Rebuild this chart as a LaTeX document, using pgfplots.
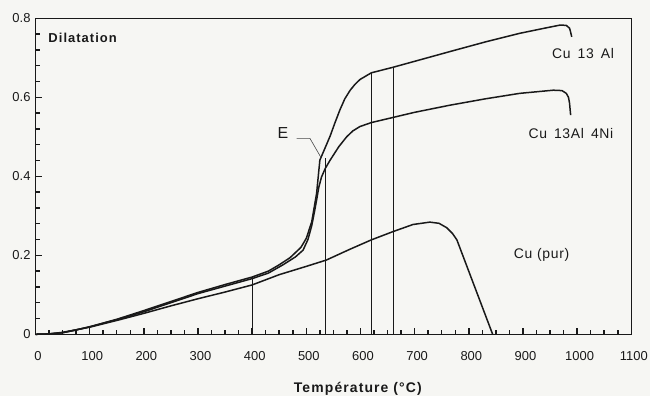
\documentclass[border=0pt]{standalone}
\usepackage{fontspec}
\setmainfont{Liberation Sans}
\newfontfamily\spacedbold[LetterSpace=8]{Liberation Sans}
\newfontfamily\spaced[LetterSpace=5]{Liberation Sans}
\usepackage{pgfplots}
\pgfplotsset{compat=1.18}
\definecolor{paper}{RGB}{246,246,243}
\definecolor{ink}{RGB}{25,25,25}

\begin{document}
\begin{tikzpicture}
\fill[paper] (-35.5bp,-61.7bp) rectangle (614.5bp,334.3bp);
\begin{axis}[
  at={(0,0)}, anchor=south west,
  scale only axis, width=595.8bp, height=316bp,
  xmin=0, xmax=1100, ymin=0, ymax=0.8,
  enlargelimits=false, clip=false,
  xtick={0,100,...,1100}, ytick={0,0.2,0.4,0.6,0.8},
  minor x tick num=3, minor y tick num=4,
  tick align=inside, tick pos=left,
  major tick length=6.5bp, minor tick length=4.5bp,
  every tick/.style={ink, line width=1.5bp},
  axis line style={ink, line width=1.1bp},
  /pgf/number format/assume math mode=true,
  /pgf/number format/1000 sep={},
  ticklabel style={font=\fontsize{13}{15}\selectfont, text=ink},
  yticklabel style={/pgf/number format/fixed, /pgf/number format/precision=1, anchor=east, xshift=-1.5bp},
  xticklabel style={anchor=center, yshift=-21.7bp, xshift=2.5bp},
  xlabel={\spacedbold\bfseries Température (°C)},
  xlabel style={at={(axis description cs:0.541,0)}, anchor=center, yshift=-54.7bp, font=\fontsize{14}{16}\selectfont, text=ink},
]
% Cu 13 Al
\addplot[ink, line width=1.5bp, line join=round] coordinates {
  (0,0) (25,0.001) (50,0.004) (75,0.011) (100,0.019) (150,0.038)
  (200,0.060) (250,0.083) (300,0.106) (350,0.126) (400,0.145)
  (430,0.160) (450,0.176) (470,0.194) (490,0.220) (500,0.243)
  (510,0.285) (519,0.357) (525,0.441) (535,0.473) (544,0.502)
  (553,0.536) (562,0.568) (571,0.596) (581,0.618) (590,0.633)
  (599,0.645) (620,0.662) (660,0.676) (697,0.690) (771,0.718)
  (830,0.740) (894,0.762) (940,0.775) (969,0.783) (980,0.782)
  (986,0.775) (988,0.765) (990,0.753)
};
% Cu 13Al 4Ni
\addplot[ink, line width=1.5bp, line join=round] coordinates {
  (0,0) (25,0.001) (50,0.004) (75,0.011) (100,0.019) (150,0.037)
  (200,0.057) (250,0.080) (300,0.103) (350,0.122) (400,0.141)
  (430,0.155) (457,0.176) (480,0.196) (494,0.213) (503,0.240)
  (510,0.275) (515,0.310) (519,0.340) (523,0.372) (528,0.398)
  (535,0.420) (544,0.441) (560,0.475) (574.5,0.500) (586,0.515)
  (599,0.526) (620,0.536) (660,0.549) (700,0.562) (765,0.580)
  (830,0.596) (894,0.610) (956,0.618) (972,0.617) (980,0.610)
  (984,0.600) (986,0.585) (988,0.555)
};
% Cu (pur)
\addplot[ink, line width=1.5bp, line join=round] coordinates {
  (0,0) (25,0.001) (50,0.005) (100,0.018) (150,0.035) (200,0.053)
  (250,0.072) (300,0.090) (350,0.107) (400,0.125) (450,0.151)
  (500,0.172) (537,0.188) (580,0.215) (620,0.239) (660,0.260)
  (697,0.278) (728,0.284) (745,0.281) (759,0.270) (770,0.255)
  (778,0.239) (844,0)
};
% vertical markers
\addplot[ink, line width=0.8bp] coordinates {(400,0) (400,0.145)};
\addplot[ink, line width=0.8bp] coordinates {(535,0) (535,0.446)};
\addplot[ink, line width=0.8bp] coordinates {(620,0) (620,0.662)};
\addplot[ink, line width=0.8bp] coordinates {(660,0) (660,0.676)};
% leader for point E
\addplot[ink!80, line width=0.6bp] coordinates {(482,0.496) (506.7,0.496) (526.5,0.449)};

\node[anchor=west, font=\spacedbold\bfseries\fontsize{13}{15}\selectfont, text=ink] at (axis cs:17.5,0.75) {Dilatation};
\node[font=\fontsize{16}{18}\selectfont, text=ink] at (axis cs:457,0.509) {E};
\node[font=\spaced\fontsize{14}{16}\selectfont, text=ink] at (axis cs:1011,0.712) {Cu\enspace 13\enspace Al};
\node[font=\spaced\fontsize{14}{16}\selectfont, text=ink] at (axis cs:988.6,0.509) {Cu\enspace 13Al\enspace 4Ni};
\node[font=\spaced\fontsize{14}{16}\selectfont, text=ink] at (axis cs:934.5,0.2) {Cu (pur)};
\end{axis}
\pgfresetboundingbox
\path[use as bounding box] (-35.5bp,-61.7bp) rectangle (614.5bp,334.3bp);
\end{tikzpicture}
\end{document}
